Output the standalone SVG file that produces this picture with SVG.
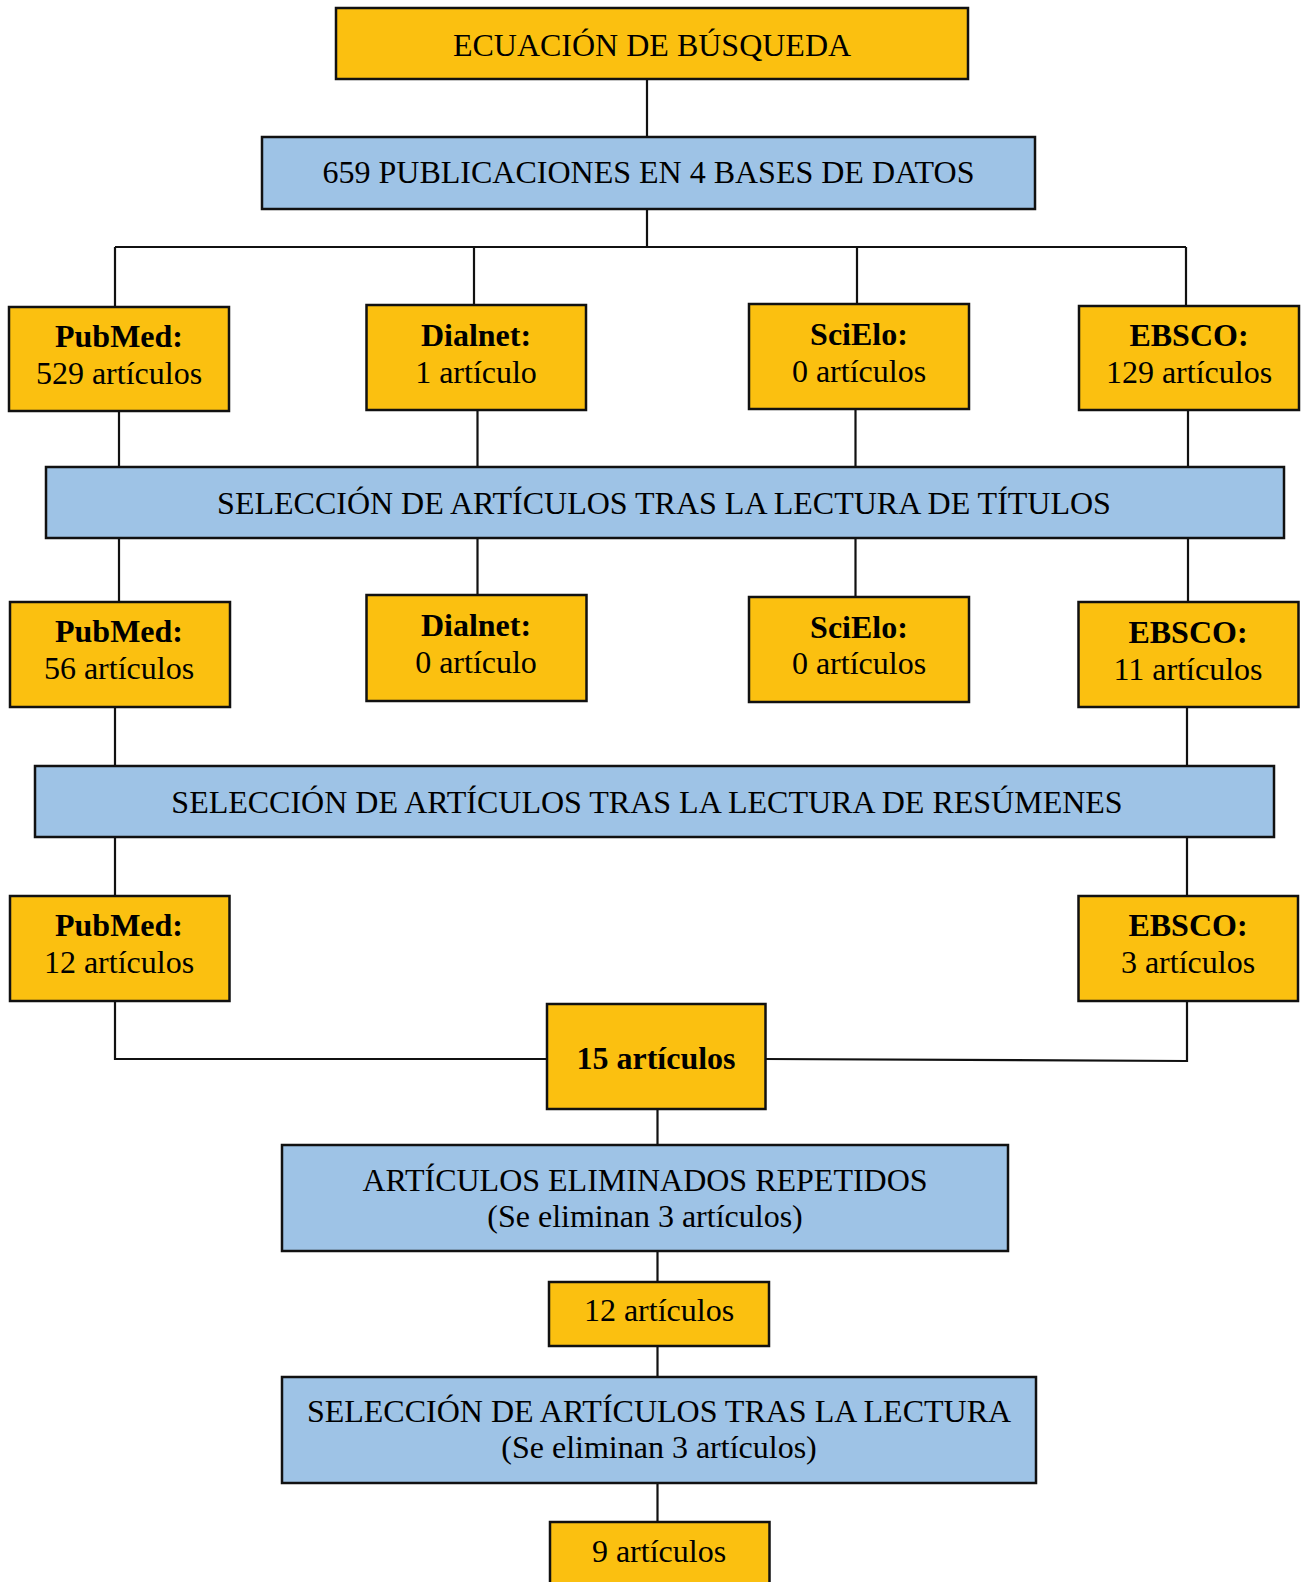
<svg xmlns="http://www.w3.org/2000/svg" width="1303" height="1582" viewBox="0 0 1303 1582">
<style>
.o{fill:#FBC010;stroke:#111;stroke-width:2.5}
.b{fill:#9EC3E6;stroke:#111;stroke-width:2.5}
.t{font-family:"Liberation Serif","Times New Roman",serif;font-size:32px;fill:#000;text-anchor:middle}
.bd{font-weight:bold}
.c{fill:none;stroke:#111;stroke-width:2.2}
</style>
<rect width="1303" height="1582" fill="#fff"/>
<g id="connectors">
<path class="c" d="M647 79V137M647 209V247M115 247H1186M115 247V307M474 247V305M857 247V304M1186 247V306"/>
<path class="c" d="M119 411V467M477.5 410V467M855.5 409V467M1188 410V467"/>
<path class="c" d="M119 538V602M477.5 538V595M855.5 538V597M1188 538V602"/>
<path class="c" d="M115 707V766M1187 707V766"/>
<path class="c" d="M115 837V896M1187 837V896"/>
<path class="c" d="M115 1001V1059H547M1187 1001V1061L765 1059"/>
<path class="c" d="M657.5 1109V1145M657.5 1251V1282M657.5 1346V1377M657.5 1483V1522"/>
</g>
<g id="n1"><rect class="o" x="336" y="8" width="632" height="71"/><text class="t" x="652" y="56">ECUACIÓN DE BÚSQUEDA</text></g>
<g id="n2"><rect class="b" x="262" y="137" width="773" height="72"/><text class="t" x="648.5" y="183">659 PUBLICACIONES EN 4 BASES DE DATOS</text></g>
<g id="pubmed1"><rect class="o" x="9" y="307" width="220" height="104"/><text class="t" x="119" y="347"><tspan class="bd">PubMed:</tspan><tspan x="119" y="384">529 artículos</tspan></text></g>
<g id="dialnet1"><rect class="o" x="366.5" y="305" width="219.5" height="105"/><text class="t" x="476" y="346"><tspan class="bd">Dialnet:</tspan><tspan x="476" y="383">1 artículo</tspan></text></g>
<g id="scielo1"><rect class="o" x="749" y="304" width="220" height="105"/><text class="t" x="859" y="344.5"><tspan class="bd">SciElo:</tspan><tspan x="859" y="382">0 artículos</tspan></text></g>
<g id="ebsco1"><rect class="o" x="1079" y="306" width="220" height="104"/><text class="t" x="1189" y="346"><tspan class="bd">EBSCO:</tspan><tspan x="1189" y="383">129 artículos</tspan></text></g>
<g id="titulos"><rect class="b" x="46" y="467" width="1238" height="71"/><text class="t" x="664" y="514">SELECCIÓN DE ARTÍCULOS TRAS LA LECTURA DE TÍTULOS</text></g>
<g id="pubmed2"><rect class="o" x="10" y="602" width="220" height="105"/><text class="t" x="119" y="641.5"><tspan class="bd">PubMed:</tspan><tspan x="119" y="678.5">56 artículos</tspan></text></g>
<g id="dialnet2"><rect class="o" x="366.5" y="595" width="220" height="106"/><text class="t" x="476" y="635.5"><tspan class="bd">Dialnet:</tspan><tspan x="476" y="673">0 artículo</tspan></text></g>
<g id="scielo2"><rect class="o" x="749" y="597" width="220" height="105"/><text class="t" x="859" y="637.5"><tspan class="bd">SciElo:</tspan><tspan x="859" y="674">0 artículos</tspan></text></g>
<g id="ebsco2"><rect class="o" x="1078.5" y="602" width="220" height="105"/><text class="t" x="1188" y="642.5"><tspan class="bd">EBSCO:</tspan><tspan x="1188" y="679.5">11 artículos</tspan></text></g>
<g id="resumenes"><rect class="b" x="35" y="766" width="1239" height="71"/><text class="t" x="647" y="812.5">SELECCIÓN DE ARTÍCULOS TRAS LA LECTURA DE RESÚMENES</text></g>
<g id="pubmed3"><rect class="o" x="10" y="896" width="219.5" height="105"/><text class="t" x="119" y="936"><tspan class="bd">PubMed:</tspan><tspan x="119" y="972.5">12 artículos</tspan></text></g>
<g id="ebsco3"><rect class="o" x="1078.5" y="896" width="219.5" height="105"/><text class="t" x="1188" y="936"><tspan class="bd">EBSCO:</tspan><tspan x="1188" y="972.5">3 artículos</tspan></text></g>
<g id="n15"><rect class="o" x="547" y="1004" width="218.5" height="105"/><text class="t bd" x="656" y="1068.5">15 artículos</text></g>
<g id="repetidos"><rect class="b" x="282" y="1145" width="726" height="106"/><text class="t" x="645" y="1190.5"><tspan>ARTÍCULOS ELIMINADOS REPETIDOS</tspan><tspan x="645" y="1226.5">(Se eliminan 3 artículos)</tspan></text></g>
<g id="n12"><rect class="o" x="549" y="1282" width="220" height="64"/><text class="t" x="659" y="1321">12 artículos</text></g>
<g id="lectura"><rect class="b" x="282" y="1377" width="754" height="106"/><text class="t" x="659" y="1421.5"><tspan>SELECCIÓN DE ARTÍCULOS TRAS LA LECTURA</tspan><tspan x="659" y="1458">(Se eliminan 3 artículos)</tspan></text></g>
<g id="n9"><rect class="o" x="550" y="1522" width="219.5" height="80"/><text class="t" x="659" y="1561.5">9 artículos</text></g>
</svg>
